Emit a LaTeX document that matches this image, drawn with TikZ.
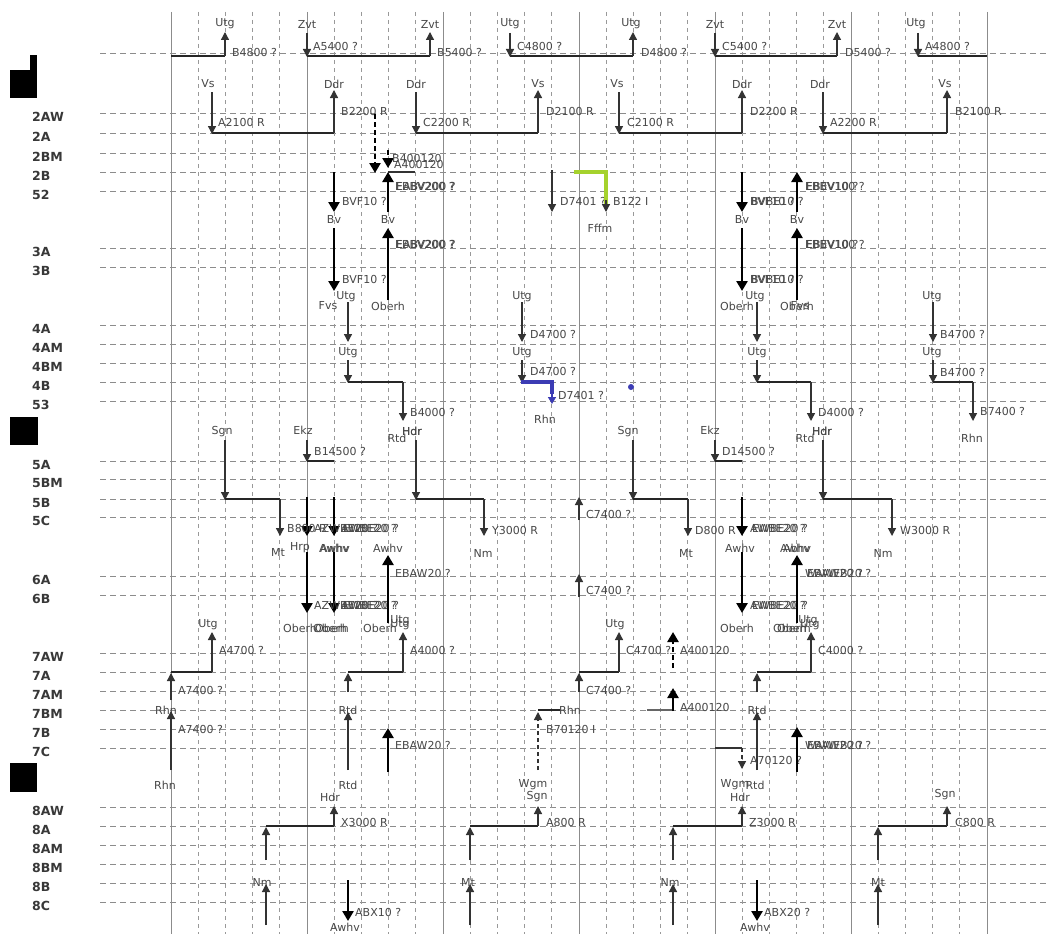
\documentclass[tikz,border=0pt]{standalone}
\usepackage{fontspec}
\setmainfont{DejaVu Sans}
\usetikzlibrary{arrows.meta}
\definecolor{limeg}{HTML}{A5D22D}
\definecolor{rblue}{HTML}{3C3CB4}
\newcounter{labn}
\newcommand{\labW}[3]{\stepcounter{labn}\node[lb,anchor=west] (L\thelabn) at (#1,#2) {#3};}
\newcommand{\labC}[3]{\stepcounter{labn}\node[lb] (L\thelabn) at (#1,#2) {#3};}
\begin{document}
\begin{tikzpicture}[x=1pt,y=-1pt,
  lb/.style={font=\fontsize{11}{12}\selectfont, text=black!72, inner sep=0pt},
  rl/.style={font=\bfseries\fontsize{12.5}{14}\selectfont, text=black!78, inner sep=0pt, anchor=west},
  hgrid/.style={draw=black!45, line width=0.7pt, dash pattern=on 6pt off 4pt},
  vgrid/.style={draw=black!40, line width=0.7pt, dash pattern=on 4pt off 4pt},
  vsolid/.style={draw=black!45, line width=0.9pt},
  route/.style={draw=black!85, line width=2.3pt},
  tarr/.style={draw=black!80, line width=1.3pt, -{Triangle[width=8pt,length=8pt]}},
  karr/.style={draw=black, line width=2.7pt, -{Triangle[width=11pt,length=10pt]}},
  kdash/.style={karr, dash pattern=on 5pt off 3pt},
  tdash/.style={tarr, dash pattern=on 4pt off 3pt},
]
\fill[white] (0,0) rectangle (1048,934);
\useasboundingbox (0,0) rectangle (1048,934);

% ---------- grid ----------
\foreach \y in {53,113,133,153,172,191,248,267,325,344,363,382,401,461,479,499,517,576,595,653,672,691,710,729,748,807,826,845,864,883,902}
  \draw[hgrid] (100,\y) -- (1048,\y);
\foreach \k in {0,...,30} {
  \pgfmathsetmacro\xx{171+27.2*\k}
  \pgfmathtruncatemacro\rr{mod(\k,5)}
  \ifnum\rr=0 \draw[vsolid] (\xx,12) -- (\xx,934);
  \else \draw[vgrid] (\xx,12) -- (\xx,934); \fi
}

% ---------- row labels ----------
\foreach \t/\y in {2AW/113,2A/133,2BM/153,2B/172,52/191,3A/248,3B/267,4A/325,4AM/344,4BM/363,4B/382,53/401,5A/461,5BM/479,5B/499,5C/517,6A/576,6B/595,7AW/653,7A/672,7AM/691,7BM/710,7B/729,7C/748,8AW/807,8A/826,8AM/845,8BM/864,8B/883,8C/902}
  \node[rl] (r\t) at (32,\y+4) {\t};

% ---------- black marks ----------
\fill[black] (10,70) rectangle (37,98);
\fill[black] (30,55) rectangle (37,71);
\fill[black] (10,417) rectangle (38,445);
\fill[black] (10,763) rectangle (37,792);

% ---------- top row ----------
\draw[route] (171,56) -- (225,56);
\draw[tarr] (225,56) -- (225,32);
\labC{225}{24}{Utg}\labW{232}{52}{B4800 ?}
\draw[route] (307,56) -- (430,56);
\draw[tarr] (307,33) -- (307,57);
\labC{307}{24}{Zvt}\labW{313}{46}{A5400 ?}
\draw[tarr] (430,56) -- (430,32);
\labC{430}{24}{Zvt}\labW{437}{52}{B5400 ?}
\draw[route] (510,56) -- (633,56);
\draw[tarr] (510,33) -- (510,57);
\labC{510}{24}{Utg}\labW{517}{46}{C4800 ?}
\draw[tarr] (633,56) -- (633,32);
\labC{631}{24}{Utg}\labW{641}{52}{D4800 ?}
\draw[route] (715,56) -- (837,56);
\draw[tarr] (715,33) -- (715,57);
\labC{715}{24}{Zvt}\labW{722}{46}{C5400 ?}
\draw[tarr] (837,56) -- (837,32);
\labC{837}{24}{Zvt}\labW{845}{52}{D5400 ?}
\draw[route] (918,56) -- (987,56);
\draw[tarr] (918,33) -- (918,57);
\labC{916}{24}{Utg}\labW{925}{46}{A4800 ?}

% ---------- row 2 ----------
\draw[route] (212,133) -- (334,133);
\draw[tarr] (212,92) -- (212,134);
\labC{208}{84}{Vs}\labW{218}{122}{A2100 R}
\draw[tarr] (334,133) -- (334,90);
\labC{334}{84}{Ddr}\labW{341}{111}{B2200 R}
\draw[route] (416,133) -- (538,133);
\draw[tarr] (416,92) -- (416,134);
\labC{416}{84}{Ddr}\labW{423}{122}{C2200 R}
\draw[tarr] (538,133) -- (538,90);
\labC{538}{84}{Vs}\labW{546}{111}{D2100 R}
\draw[route] (619,133) -- (742,133);
\draw[tarr] (619,92) -- (619,134);
\labC{617}{84}{Vs}\labW{627}{122}{C2100 R}
\draw[tarr] (742,133) -- (742,90);
\labC{742}{84}{Ddr}\labW{750}{111}{D2200 R}
\draw[route] (823,133) -- (947,133);
\draw[tarr] (823,92) -- (823,134);
\labC{820}{84}{Ddr}\labW{830}{122}{A2200 R}
\draw[tarr] (947,133) -- (947,90);
\labC{945}{84}{Vs}\labW{955}{111}{B2100 R}

% ---------- dashed arrows near 2BM ----------
\draw[kdash] (375,114) -- (375,173);
\draw[kdash] (388,150) -- (388,168);
\draw[draw=black!80, line width=1.2pt] (388,172) -- (415,172);
\labW{392}{158}{B400120}\labW{394}{164}{A400120}

% ---------- Bv group left ----------
\draw[karr] (334,172) -- (334,212);
\labW{342}{201}{BVF10 ?}\labC{334}{219}{Bv}
\draw[karr] (388,212) -- (388,172);
\labW{395}{186}{EBBV200 ?}\labW{396}{186}{EABV200 ?}\labC{388}{219}{Bv}
\draw[karr] (334,228) -- (334,291);
\labW{342}{279}{BVF10 ?}\labC{328}{306}{Fvs}
\draw[karr] (388,300) -- (388,228);
\labW{395}{244}{EBBV200 ?}\labW{396}{244}{EABV200 ?}\labC{388}{306}{Oberh}

% ---------- Bv group right ----------
\draw[karr] (742,172) -- (742,212);
\labW{750}{201}{BVF10 ?}\labW{751}{201}{BVBE10 ?}\labC{742}{219}{Bv}
\draw[karr] (797,212) -- (797,172);
\labW{805}{186}{EBBV100 ?}\labW{806}{186}{EBEV10 ?}\labC{797}{219}{Bv}
\draw[karr] (742,228) -- (742,291);
\labW{750}{279}{BVF10 ?}\labW{751}{279}{BVBE10 ?}\labC{737}{306}{Oberh}
\draw[karr] (797,300) -- (797,228);
\labW{805}{244}{EBBV100 ?}\labW{806}{244}{EBEV10 ?}\labC{797}{306}{Oberh}\labC{800}{306}{Fvs}

% ---------- green and D7401 ----------
\draw[tarr] (552,170) -- (552,212);
\labW{560}{201}{D7401 ?}
\draw[draw=limeg, line width=4pt, line join=miter] (574,172) -- (606,172) -- (606,204);
\draw[tarr] (606,200) -- (606,212);
\labW{613}{201}{B122 I}\labC{600}{228}{Fffm}

% ---------- Utg columns (4A..4B) ----------
\labC{346}{297}{Utg}
\draw[tarr] (348,302) -- (348,342);
\labC{348}{353}{Utg}
\draw[tarr] (348,360) -- (348,383);
\draw[route] (348,382) -- (403,382);
\draw[tarr] (403,382) -- (403,421);
\labW{410}{412}{B4000 ?}\labC{412}{431}{Hdr}\labC{397}{438}{Rtd}

\labC{522}{297}{Utg}
\draw[tarr] (522,302) -- (522,342);
\labW{530}{334}{D4700 ?}
\labC{522}{353}{Utg}
\draw[tarr] (522,360) -- (522,383);
\labW{530}{371}{D4700 ?}
\draw[draw=rblue, line width=3.5pt, line join=miter] (521,382) -- (552,382) -- (552,394);
\draw[draw=rblue, line width=1.5pt, -{Triangle[width=8pt,length=7pt]}] (552,392) -- (552,404);
\labW{558}{395}{D7401 ?}\labC{545}{419}{Rhn}
\fill[rblue] (631,387) circle (3pt);

\labC{755}{297}{Utg}
\draw[tarr] (757,302) -- (757,342);
\labC{757}{353}{Utg}
\draw[tarr] (757,360) -- (757,383);
\draw[route] (757,382) -- (811,382);
\draw[tarr] (811,382) -- (811,421);
\labW{818}{412}{D4000 ?}\labC{822}{431}{Hdr}\labC{805}{438}{Rtd}

\labC{932}{297}{Utg}
\draw[tarr] (933,302) -- (933,342);
\labW{940}{334}{B4700 ?}
\labC{932}{353}{Utg}
\draw[tarr] (933,360) -- (933,383);
\labW{940}{372}{B4700 ?}
\draw[route] (933,382) -- (973,382);
\draw[tarr] (973,382) -- (973,421);
\labW{980}{411}{B7400 ?}\labC{972}{438}{Rhn}

% ---------- row 5 left ----------
\labC{222}{432}{Sgn}
\draw[tarr] (225,440) -- (225,500);
\draw[route] (225,499) -- (280,499);
\draw[tarr] (280,499) -- (280,536);
\labC{278}{552}{Mt}
\labC{303}{430}{Ekz}
\draw[tarr] (307,440) -- (307,462);
\draw[route] (307,461) -- (334,461);
\labW{314}{451}{B14500 ?}
\draw[karr] (307,497) -- (307,536);
\draw[karr] (334,497) -- (334,536);
\labW{287}{528}{B800 R}\labW{314}{528}{AZWBE20 ?}\labW{341}{528}{AWBE20 ?}\labW{343}{528}{EWBE20 ?}
\labC{300}{548}{Hrp}\labC{334}{548}{Awhv}\labC{335}{548}{Awhv}
\draw[karr] (307,552) -- (307,613);
\draw[karr] (334,552) -- (334,613);
\labW{314}{605}{AZWBE20 ?}\labW{341}{605}{AWBE20 ?}\labW{343}{605}{EWBE20 ?}
\labC{300}{628}{Oberh}\labC{330}{628}{Oberh}\labC{332}{628}{Oberh}
\draw[karr] (388,623) -- (388,555);
\labC{388}{548}{Awhv}\labW{395}{573}{EBAW20 ?}
\labC{380}{628}{Oberh}\labC{400}{621}{Utg}
\labC{412}{431}{Hdr}
\draw[tarr] (416,440) -- (416,500);
\draw[route] (416,499) -- (484,499);
\draw[tarr] (484,499) -- (484,536);
\labW{492}{530}{Y3000 R}\labC{483}{553}{Nm}

% ---------- row 5 right ----------
\labC{628}{432}{Sgn}
\draw[tarr] (633,440) -- (633,500);
\draw[route] (633,499) -- (688,499);
\draw[tarr] (688,499) -- (688,536);
\labW{695}{530}{D800 R}\labC{686}{553}{Mt}
\labC{710}{430}{Ekz}
\draw[tarr] (715,440) -- (715,462);
\draw[route] (715,461) -- (742,461);
\labW{722}{451}{D14500 ?}
\draw[karr] (742,497) -- (742,536);
\labW{750}{528}{AWBE20 ?}\labW{752}{528}{EWBE20 ?}\labC{740}{548}{Awhv}
\draw[karr] (742,552) -- (742,613);
\labW{750}{605}{AWBE20 ?}\labW{752}{605}{EWBE20 ?}\labC{737}{628}{Oberh}
\draw[karr] (797,623) -- (797,555);
\labC{795}{548}{Awhv}\labC{797}{548}{Abhv}
\labW{805}{573}{WAWEB20 ?}\labW{807}{573}{EBAW20 ?}
\labC{790}{628}{Oberh}\labC{794}{628}{Oberh}\labC{808}{621}{Utg}
\labC{822}{431}{Hdr}
\draw[tarr] (823,440) -- (823,500);
\draw[route] (823,499) -- (892,499);
\draw[tarr] (892,499) -- (892,536);
\labW{900}{530}{W3000 R}\labC{883}{553}{Nm}

% ---------- C7400 on x=579 ----------
\draw[tarr] (579,520) -- (579,497);
\labW{586}{514}{C7400 ?}
\draw[tarr] (579,597) -- (579,574);
\labW{586}{590}{C7400 ?}

% ---------- row 7 ----------
\draw[route] (171,672) -- (212,672);
\draw[tarr] (212,672) -- (212,632);
\labC{208}{625}{Utg}\labW{219}{650}{A4700 ?}
\draw[tarr] (171,700) -- (171,673);
\labW{178}{690}{A7400 ?}
\labC{166}{710}{Rhn}
\draw[tarr] (171,770) -- (171,711);
\labW{178}{729}{A7400 ?}\labC{165}{785}{Rhn}

\draw[route] (348,672) -- (403,672);
\draw[tarr] (403,672) -- (403,632);
\labC{400}{625}{Utg}\labW{410}{650}{A4000 ?}
\draw[tarr] (348,692) -- (348,673);
\labC{348}{710}{Rtd}
\draw[tarr] (348,770) -- (348,712);
\draw[karr] (388,772) -- (388,728);
\labW{395}{745}{EBAW20 ?}
\labC{348}{785}{Rtd}\labC{330}{797}{Hdr}

\draw[route] (579,672) -- (619,672);
\draw[tarr] (619,672) -- (619,632);
\labC{615}{625}{Utg}\labW{626}{650}{C4700 ?}
\draw[tarr] (579,692) -- (579,673);
\labW{586}{690}{C7400 ?}

\draw[kdash] (673,668) -- (673,632);
\labW{680}{650}{A400120}
\draw[draw=black!60, line width=1.5pt] (647,710) -- (673,710);
\draw[karr] (673,711) -- (673,688);
\labW{680}{707}{A400120}

\draw[tdash] (538,770) -- (538,712);
\draw[route] (538,710) -- (560,710);
\labC{570}{710}{Rhn}\labW{546}{729}{B70120 I}
\labC{533}{785}{Wgm}\labC{537}{797}{Sgn}

\draw[route] (757,672) -- (811,672);
\draw[tarr] (811,672) -- (811,632);
\labC{810}{625}{Utg}\labW{818}{650}{C4000 ?}
\draw[tarr] (757,692) -- (757,673);
\labC{757}{710}{Rtd}
\draw[tarr] (757,770) -- (757,712);
\draw[draw=black!80, line width=1.5pt] (715,748) -- (742,748);
\draw[tdash] (742,748) -- (742,769);
\labW{750}{760}{A70120 ?}
\labC{735}{785}{Wgm}\labC{755}{785}{Rtd}\labC{740}{797}{Hdr}
\draw[karr] (797,772) -- (797,727);
\labW{805}{745}{WAWEB20 ?}\labW{807}{745}{EBAW20 ?}

% ---------- row 8 ----------
\draw[route] (266,826) -- (334,826);
\draw[tarr] (334,826) -- (334,806);
\labW{341}{822}{X3000 R}
\draw[tarr] (266,860) -- (266,827);
\labC{262}{882}{Nm}
\draw[tarr] (266,925) -- (266,884);
\draw[karr] (348,880) -- (348,921);
\labW{355}{912}{ABX10 ?}\labC{345}{927}{Awhv}

\draw[route] (470,826) -- (538,826);
\draw[tarr] (538,826) -- (538,806);
\labW{546}{822}{A800 R}
\draw[tarr] (470,860) -- (470,827);
\labC{468}{882}{Mt}
\draw[tarr] (470,925) -- (470,884);

\draw[route] (673,826) -- (742,826);
\draw[tarr] (742,826) -- (742,806);
\labW{749}{822}{Z3000 R}
\draw[tarr] (673,860) -- (673,827);
\labC{670}{882}{Nm}
\draw[tarr] (673,925) -- (673,884);
\draw[karr] (757,880) -- (757,921);
\labW{764}{912}{ABX20 ?}\labC{755}{927}{Awhv}

\draw[route] (878,826) -- (947,826);
\draw[tarr] (947,826) -- (947,806);
\labC{945}{795}{Sgn}\labW{955}{822}{C800 R}
\draw[tarr] (878,860) -- (878,827);
\labC{878}{882}{Mt}
\draw[tarr] (878,925) -- (878,884);
\end{tikzpicture}
\end{document}
